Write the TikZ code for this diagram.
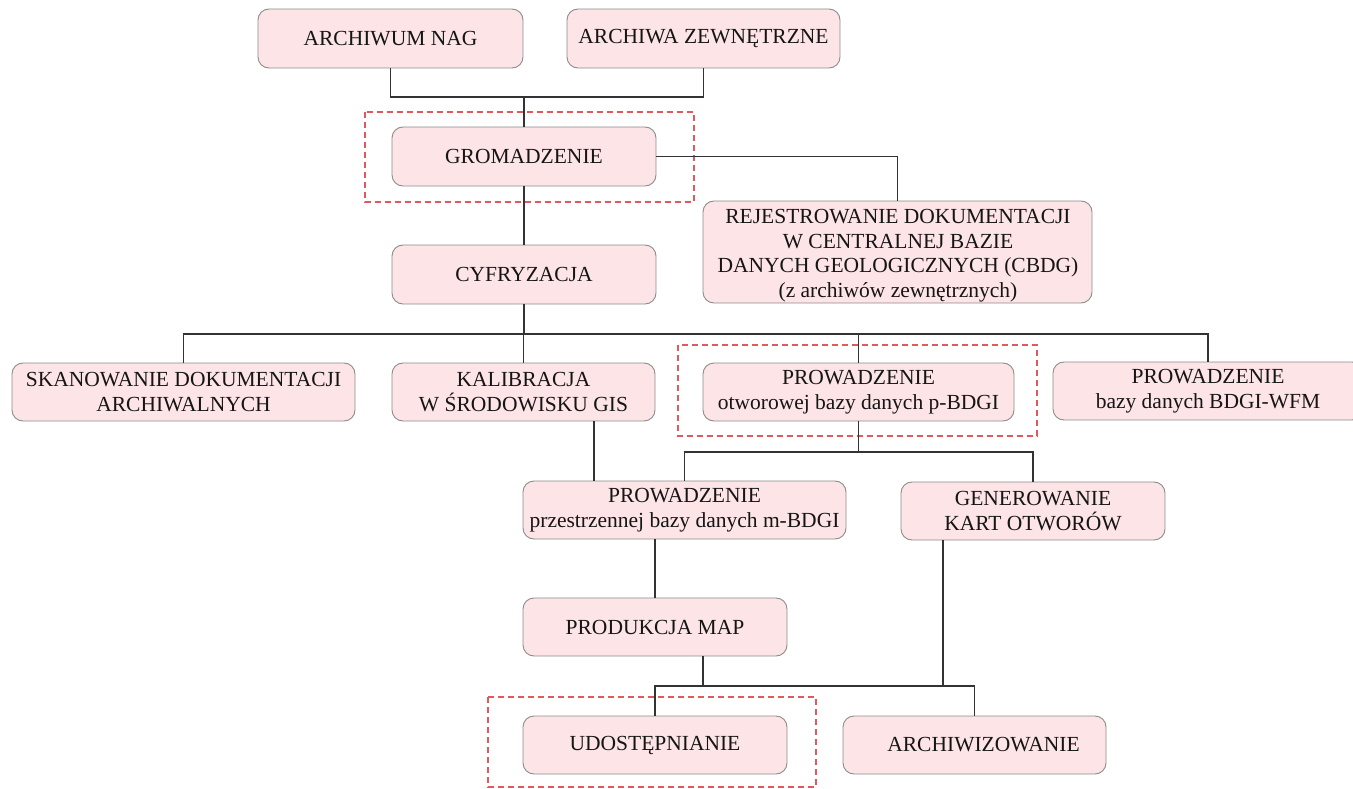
\documentclass[tikz,border=0pt]{standalone}
\usepackage{fontspec}
\setmainfont{Liberation Serif}
\definecolor{boxfill}{HTML}{FDE4E6}
\definecolor{boxline}{HTML}{8C8C8C}
\definecolor{connline}{HTML}{333333}
\definecolor{dashred}{HTML}{E2585C}
\definecolor{txt}{HTML}{151515}
\begin{document}
\begin{tikzpicture}[x=1pt,y=-1pt,
  pbox/.style={draw=boxline, line width=0.9pt, fill=boxfill, rounded corners=11pt,
    align=center, inner sep=0pt, text=txt,
    font=\fontsize{21.5}{24.5}\selectfont},
  ptext/.style={align=center, inner sep=0pt, text=txt,
    font=\fontsize{21.5}{24.5}\selectfont},
  conn/.style={draw=connline, line width=1.4pt},
  dashframe/.style={draw=dashred, line width=1.2pt, dash pattern=on 6pt off 4pt}]
\useasboundingbox (0,0) rectangle (1353,789);
\clip (0,0) rectangle (1353,789);
% boxes
\node[pbox, minimum width=265pt, minimum height=59pt] (an) at (390.5,38.5) {ARCHIWUM NAG};
\node[pbox, minimum width=273pt, minimum height=59pt] (az) at (703.5,38.5) {ARCHIWA ZEWNĘTRZNE};
\node[pbox, minimum width=264pt, minimum height=59pt] (gr) at (524,156.5) {GROMADZENIE};
\node[pbox, minimum width=389pt, minimum height=102pt] (rej) at (897.5,252) {};
\node[ptext] (rejt) at (898,255.5) {REJESTROWANIE DOKUMENTACJI\\W CENTRALNEJ BAZIE\\DANYCH GEOLOGICZNYCH (CBDG)\\(z archiwów zewnętrznych)};
\node[pbox, minimum width=264pt, minimum height=59pt] (cy) at (524,274.5) {CYFRYZACJA};
\node[pbox, minimum width=343pt, minimum height=58pt] (sk) at (183.5,392) {SKANOWANIE DOKUMENTACJI\\ARCHIWALNYCH};
\node[pbox, minimum width=263pt, minimum height=58pt] (kal) at (523.5,392) {KALIBRACJA\\W ŚRODOWISKU GIS};
\node[pbox, minimum width=311pt, minimum height=58pt] (pb) at (858.5,392) {PROWADZENIE\\otworowej bazy danych p-BDGI};
\node[pbox, minimum width=310pt, minimum height=58pt] (wfm) at (1208,391) {PROWADZENIE\\bazy danych BDGI-WFM};
\node[pbox, minimum width=323pt, minimum height=58pt] (mb) at (684.5,510) {PROWADZENIE\\przestrzennej bazy danych m-BDGI};
\node[pbox, minimum width=264pt, minimum height=58pt] (gen) at (1033,511) {GENEROWANIE\\KART OTWORÓW};
\node[pbox, minimum width=264pt, minimum height=58pt] (pm) at (655,627) {PRODUKCJA MAP};
\node[pbox, minimum width=264pt, minimum height=58pt] (ud) at (655,745) {UDOSTĘPNIANIE};
\node[pbox, minimum width=263pt, minimum height=58pt, text width=263pt] (ar) at (974.5,745) {\hspace*{18pt}\raisebox{-4pt}{ARCHIWIZOWANIE}};
% dashed frames
\draw[dashframe] (365,112) rectangle (694,202);
\draw[dashframe] (678,345) rectangle (1037,436);
\draw[dashframe] (488,697) rectangle (816,787);
% junction coordinates
\coordinate (j1) at (524,97);
\coordinate (b2) at (524,334);
\coordinate (b3) at (858.5,452);
\coordinate (b4) at (703,686);
\coordinate (k1) at ([xshift=70.5pt]kal.south);
\coordinate (p1) at ([xshift=48pt]pm.south);
\coordinate (g1) at ([xshift=-90pt]gen.south);
% connectors
\draw[conn] (an.south) |- (j1) -| (az.south);
\draw[conn] (j1) -- (gr.north);
\draw[conn] (gr.east) -| (rej.north);
\draw[conn] (gr.south) -- (cy.north);
\draw[conn] (cy.south) -- (b2);
\draw[conn] (sk.north) |- (b2) -| (wfm.north);
\draw[conn] (kal.north) -- (kal.north |- b2);
\draw[conn] (pb.north) -- (pb.north |- b2);
\draw[conn] (pb.south) -- (b3);
\draw[conn] (mb.north) |- (b3) -| (gen.north);
\draw[conn] (k1) -- (k1 |- mb.north);
\draw[conn] (pm.north) -- (pm.north |- mb.south);
\draw[conn] (p1) -- (b4);
\draw[conn] (ud.north) |- (b4) -| (ar.north);
\draw[conn] (g1) -- (g1 |- b4);
\end{tikzpicture}
\end{document}
